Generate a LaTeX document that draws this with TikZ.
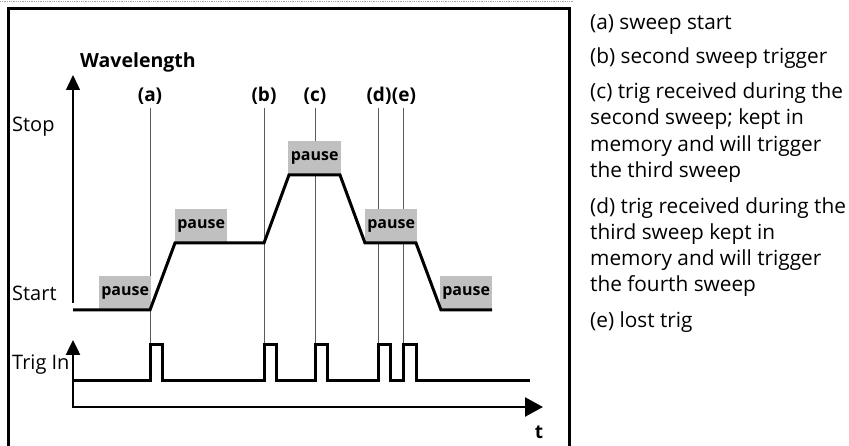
\documentclass[tikz,border=0pt]{standalone}
\usepackage{fontspec}
\setmainfont{Open Sans}
\usetikzlibrary{arrows.meta}
\definecolor{pausegray}{RGB}{192,192,192}
\definecolor{guidegray}{RGB}{90,90,90}
\begin{document}
\begin{tikzpicture}[x=1pt,y=-1pt,
  every node/.style={inner sep=0pt},
  sig/.style={line width=3pt, line join=miter},
  guide/.style={line width=0.9pt, draw=guidegray},
  pausebox/.style={fill=pausegray, minimum width=52pt, minimum height=34pt, anchor=south west, font=\bfseries\fontsize{16}{16}\selectfont},
  lbl/.style={anchor=base west, font=\fontsize{20}{24}\selectfont},
  evt/.style={anchor=base, font=\bfseries\fontsize{19}{20}\selectfont},
  desc/.style={anchor=base west, font=\fontsize{20.8}{24}\selectfont},
  tip/.style={-{Triangle[length=15pt,width=14pt]}}
]
\useasboundingbox (0,0) rectangle (849,446);
% page artefact and frame
\draw[black!35, densely dotted, line width=0.8pt] (0,1.5) -- (574,1.5);
\draw[line width=3.5pt] (8.5,446) -- (8.5,8.5) -- (569.5,8.5) -- (569.5,446);

% axes
\coordinate (wbot) at (73,303);
\coordinate (wtop) at (73,75);
\draw[line width=1.3pt, tip] (wbot) -- (wtop);
\coordinate (tup) at (73,340);
\coordinate (torg) at (73,407);
\coordinate (tend) at (543,407);
\draw[line width=2.5pt, {Triangle[length=15pt,width=14pt]}-{Triangle[length=18pt,width=19pt]}] (tup) -- (torg) -- (tend);

% axis labels
\node[anchor=base west, font=\bfseries\fontsize{19.5}{22}\selectfont] (wl) at (80,68) {Wavelength};
\node[lbl] (stop) at (12,132) {Stop};
\node[lbl] (start) at (12,301) {Start};
\node[lbl] (trig) at (12,370) {Trig In};
\node[anchor=base, font=\bfseries\fontsize{19}{22}\selectfont] (t) at (539,438) {t};

% event labels
\node[evt] (la) at (150,102) {(a)};
\node[evt] (lb) at (264,102) {(b)};
\node[evt] (lc) at (315,102) {(c)};
\node[evt] (ld) at (379,102) {(d)};
\node[evt] (le) at (404,102) {(e)};

% guide lines
\coordinate (ga) at (150,345);
\coordinate (gb) at (264,345);
\coordinate (gc) at (315,345);
\coordinate (gd) at (378,345);
\coordinate (ge) at (403,345);
\draw[guide] (150,108) -- (ga);
\draw[guide] (264,108) -- (gb);
\draw[guide] (315,108) -- (gc);
\draw[guide] (378,108) -- (gd);
\draw[guide] (403,108) -- (ge);

% pause boxes
\node[pausebox] (p1) at (99,310) {pause};
\node[pausebox] (p2) at (175,243) {pause};
\node[pausebox, minimum width=53pt] (p3) at (288,175) {pause};
\node[pausebox] (p4) at (365,243) {pause};
\node[pausebox] (p5) at (440,310) {pause};

% wavelength signal
\draw[sig] (73,310) -- (150,310) -- (175,243) -- (264,243) -- (289,175) -- (340,175)
  -- (365,243) -- (416,243) -- (441,310) -- (492,310);

% trigger signal
\draw[sig] (73,380) -- (ga |- 0,380) -- (ga) -- (162,345) -- (162,380)
  -- (gb |- 0,380) -- (gb) -- (276,345) -- (276,380)
  -- (gc |- 0,380) -- (gc) -- (327,345) -- (327,380)
  -- (gd |- 0,380) -- (gd) -- (390,345) -- (390,380)
  -- (ge |- 0,380) -- (ge) -- (416,345) -- (416,380)
  -- (530,380);

% descriptions
\node[desc] (da) at (590,29.5) {(a) sweep start};
\node[desc] (db) at (590,63.5) {(b) second sweep trigger};
\node[desc] (dc1) at (590,98.5) {(c) trig received during the};
\node[desc] (dc2) at (590,125) {second sweep; kept in};
\node[desc] (dc3) at (590,151.5) {memory and will trigger};
\node[desc] (dc4) at (590,178) {the third sweep};
\node[desc] (dd1) at (590,213.5) {(d) trig received during the};
\node[desc] (dd2) at (590,239.5) {third sweep kept in};
\node[desc] (dd3) at (590,265.5) {memory and will trigger};
\node[desc] (dd4) at (590,291.5) {the fourth sweep};
\node[desc] (de) at (590,327.5) {(e) lost trig};
\end{tikzpicture}
\end{document}
